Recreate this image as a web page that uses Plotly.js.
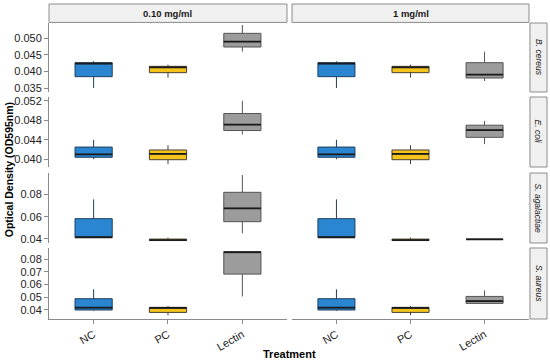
<!DOCTYPE html>
<html>
<head>
<meta charset="utf-8">
<script src="https://cdn.plot.ly/plotly-3.0.1.min.js"></script>
<style>html,body{margin:0;padding:0;background:#fff;}#chart{width:550px;height:363px;}</style>
</head>
<body>
<div id="chart"></div>
<script>
// ---- data ----
const treatments = ['NC', 'PC', 'Lectin'];
const concentrations = ['0.10 mg/ml', '1 mg/ml'];
const bacteria = ['B. cereus', 'E. coli', 'S. agalactiae', 'S. aureus'];
// each box: [lowerfence, q1, median, q3, upperfence], order NC, PC, Lectin
const bCereus010 = [[0.0350, 0.0384, 0.0423, 0.0426, 0.0430], [0.0381, 0.0396, 0.0412, 0.0415, 0.0420], [0.0459, 0.0473, 0.0489, 0.0514, 0.0539]];
const bCereus1   = [[0.0350, 0.0384, 0.0423, 0.0426, 0.0430], [0.0381, 0.0396, 0.0412, 0.0415, 0.0420], [0.0371, 0.0380, 0.0390, 0.0426, 0.0459]];
const eColi010   = [[0.0400, 0.0404, 0.0410, 0.0425, 0.0440], [0.0390, 0.0399, 0.0411, 0.0419, 0.0429], [0.0451, 0.0459, 0.0471, 0.0494, 0.0520]];
const eColi1     = [[0.0400, 0.0404, 0.0410, 0.0425, 0.0440], [0.0390, 0.0399, 0.0411, 0.0419, 0.0429], [0.0431, 0.0445, 0.0460, 0.0470, 0.0479]];
const sAgal010   = [[0.0412, 0.0413, 0.0415, 0.0582, 0.0755], [0.0385, 0.0386, 0.0390, 0.0399, 0.0412], [0.0451, 0.0555, 0.0675, 0.0818, 0.0973]];
const sAgal1     = [[0.0412, 0.0413, 0.0415, 0.0582, 0.0755], [0.0385, 0.0386, 0.0390, 0.0399, 0.0412], [0.0397, 0.0397, 0.0397, 0.0398, 0.0398]];
const sAureus010 = [[0.0392, 0.0398, 0.0416, 0.0487, 0.0561], [0.0356, 0.0379, 0.0415, 0.0419, 0.0429], [0.0505, 0.0681, 0.0855, 0.0857, 0.0857]];
const sAureus1   = [[0.0392, 0.0398, 0.0416, 0.0487, 0.0561], [0.0356, 0.0379, 0.0415, 0.0419, 0.0429], [0.0449, 0.0450, 0.0468, 0.0505, 0.0553]];
const yTicks = [[0.035, 0.040, 0.045, 0.050], [0.040, 0.044, 0.048, 0.052], [0.04, 0.06, 0.08], [0.04, 0.05, 0.06, 0.07, 0.08]];
const yTickText = [['0.035', '0.040', '0.045', '0.050'], ['0.040', '0.044', '0.048', '0.052'], ['0.04', '0.06', '0.08'], ['0.04', '0.05', '0.06', '0.07', '0.08']];

const panels = [[bCereus010, bCereus1], [eColi010, eColi1], [sAgal010, sAgal1], [sAureus010, sAureus1]];

// ---- styles ----
const FONT = 'Arial, "Liberation Sans", sans-serif';
const fills = ['#2a86d0', '#f4c41c', '#9c9c9c'];
const lines = ['#1f3f5f', '#4a4030', '#555555'];
const yRanges = [[0.0338, 0.0545], [0.0384, 0.0528], [0.0364, 0.0991], [0.0327, 0.0887]];
const rowDom = [[0.7669, 1], [0.5135, 0.75], [0.2568, 0.4932], [0, 0.2399]];
const colDom = [[0, 0.4958], [0.50625, 1]];
const AXC = '#8a8a8a';

const traces = [];
const medians = [];
const layout = {
  width: 550, height: 363,
  margin: {l: 49, r: 21, t: 23, b: 44},
  paper_bgcolor: '#fff', plot_bgcolor: '#fff',
  showlegend: false,
  font: {family: FONT, color: '#222', size: 11},
  shapes: [], annotations: []
};

for (let r = 0; r < 4; r++) {
  for (let c = 0; c < 2; c++) {
    const idx = r * 2 + c + 1;
    const xa = 'x' + (idx === 1 ? '' : idx);
    const ya = 'y' + (idx === 1 ? '' : idx);
    const stats = panels[r][c];
    for (let t = 0; t < 3; t++) {
      const s = stats[t];
      traces.push({
        type: 'box', xaxis: xa, yaxis: ya,
        x: [treatments[t]],
        lowerfence: [s[0]], q1: [s[1]], median: [s[2]], q3: [s[3]], upperfence: [s[4]],
        fillcolor: fills[t],
        line: {color: lines[t], width: 1},
        whiskerwidth: 0, width: 0.5, boxpoints: false, hoverinfo: 'skip'
      });
      // thick median bar (ggplot style), drawn as a degenerate box at the median
      medians.push({
        type: 'box', xaxis: xa, yaxis: ya,
        x: [treatments[t]],
        lowerfence: [s[2]], q1: [s[2]], median: [s[2]], q3: [s[2]], upperfence: [s[2]],
        fillcolor: 'rgba(0,0,0,0)',
        line: {color: '#1a1a1a', width: 1.8},
        whiskerwidth: 0, width: 0.5, boxpoints: false, hoverinfo: 'skip'
      });
    }
    const bottom = r === 3;
    layout['xaxis' + (idx === 1 ? '' : idx)] = {
      domain: colDom[c], anchor: ya, type: 'category',
      categoryorder: 'array', categoryarray: treatments,
      range: [-0.6, 2.6], showgrid: false, zeroline: false,
      showline: bottom, linecolor: AXC, linewidth: 1,
      ticks: bottom ? 'outside' : '', ticklen: 4, tickcolor: AXC,
      showticklabels: bottom, tickangle: -30,
      tickfont: {size: 11, color: '#222', family: FONT}
    };
    layout['yaxis' + (idx === 1 ? '' : idx)] = {
      domain: rowDom[r], anchor: xa, range: yRanges[r],
      showgrid: false, zeroline: false,
      showline: c === 0, linecolor: AXC, linewidth: 1,
      ticks: c === 0 ? 'outside' : '', ticklen: 4, tickcolor: AXC,
      tickmode: 'array', tickvals: yTicks[r], ticktext: yTickText[r],
      showticklabels: c === 0,
      tickfont: {size: 11, color: '#222', family: FONT}
    };
  }
}
layout.boxmode = 'overlay';

// top strips
const stripTop = 1.0642;
for (let c = 0; c < 2; c++) {
  layout.shapes.push({type: 'rect', xref: 'paper', yref: 'paper', x0: colDom[c][0], x1: colDom[c][1], y0: 1.002, y1: stripTop,
    fillcolor: '#f0f0f0', line: {color: '#8c8c8c', width: 1}});
  layout.annotations.push({xref: 'paper', yref: 'paper', x: (colDom[c][0] + colDom[c][1]) / 2, y: (1.002 + stripTop) / 2,
    text: '<b>' + concentrations[c] + '</b>', showarrow: false, xanchor: 'center', yanchor: 'middle',
    font: {size: 9.5, color: '#1a1a1a', family: FONT}});
}
// right strips
for (let r = 0; r < 4; r++) {
  layout.shapes.push({type: 'rect', xref: 'paper', yref: 'paper', x0: 1.002, x1: 1.0375, y0: rowDom[r][0], y1: rowDom[r][1],
    fillcolor: '#f0f0f0', line: {color: '#8c8c8c', width: 1}});
  layout.annotations.push({xref: 'paper', yref: 'paper', x: (1.002 + 1.0375) / 2, y: (rowDom[r][0] + rowDom[r][1]) / 2,
    text: '<i>' + bacteria[r] + '</i>', showarrow: false, textangle: 90, xanchor: 'center', yanchor: 'middle',
    font: {size: 8.5, color: '#1a1a1a', family: FONT}});
}
// axis titles
layout.annotations.push({xref: 'paper', yref: 'paper', x: 0.5, y: -0.118, text: '<b>Treatment</b>', showarrow: false,
  xanchor: 'center', yanchor: 'middle', font: {size: 11, color: '#000', family: FONT}});
layout.annotations.push({xref: 'paper', yref: 'paper', x: -0.083, y: 0.503, text: '<b>Optical Density (OD595nm)</b>', showarrow: false,
  textangle: -90, xanchor: 'center', yanchor: 'middle', font: {size: 10.5, color: '#000', family: FONT}});

Plotly.newPlot('chart', traces.concat(medians), layout, {displayModeBar: false, staticPlot: true});
</script>
</body>
</html>
